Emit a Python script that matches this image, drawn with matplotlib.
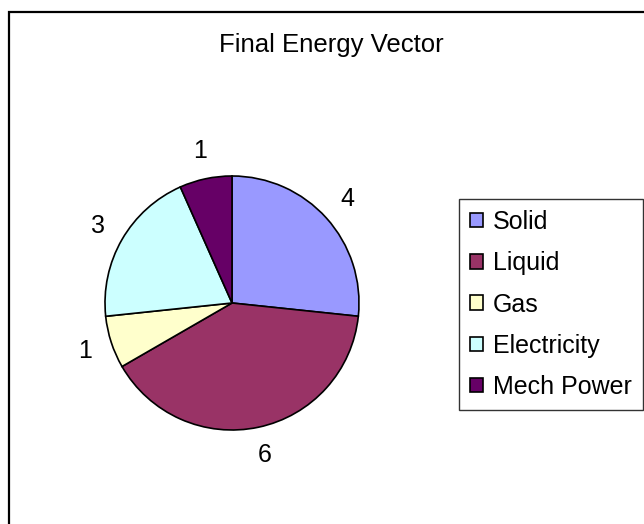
import matplotlib.pyplot as plt
from matplotlib.patches import Rectangle

labels = ["Solid", "Liquid", "Gas", "Electricity", "Mech Power"]
values = [4, 6, 1, 3, 1]
colors = ["#9999FF", "#993366", "#FFFFCC", "#CCFFFF", "#660066"]

plt.rcParams['font.family'] = ['Liberation Sans', 'DejaVu Sans']

W, H = 644, 524
fig = plt.figure(figsize=(W / 100, H / 100), dpi=100)

# outer chart border (runs off right/bottom edge)
fig.patches.append(Rectangle((9 / W, -0.05), 1.0, (H - 12) / H + 0.05,
                             transform=fig.transFigure, fill=False,
                             edgecolor="black", linewidth=1.6))

fig.text(331 / W, 1 - 52 / H, "Final Energy Vector", ha="center", va="baseline", fontsize=18.5)

# pie axes: center (232, 303), radius 127 px
cx, cy, r, box = 232, 303, 127, 340
ax = fig.add_axes([(cx - box / 2) / W, 1 - (cy + box / 2) / H, box / W, box / H])
wedges, texts = ax.pie(values, labels=[str(v) for v in values], colors=colors,
                       startangle=90, counterclock=False, labeldistance=1.22,
                       wedgeprops=dict(edgecolor="black", linewidth=1.2),
                       textprops=dict(fontsize=18))
for t in texts:
    t.set_ha("center")
    t.set_va("center")
lim = box / 2 / r
ax.set_xlim(-lim, lim)
ax.set_ylim(-lim, lim)
ax.set_aspect("equal")

leg = fig.legend(wedges, labels, loc="upper left",
                 bbox_to_anchor=(459 / W, 1 - 199 / H), fontsize=18,
                 frameon=True, fancybox=False, edgecolor="black",
                 handlelength=0.52, handleheight=0.52, handletextpad=0.4,
                 labelspacing=0.69, borderpad=0.44, borderaxespad=0)
leg.get_frame().set_linewidth(1.0)

fig.savefig("out.png", dpi=100)
